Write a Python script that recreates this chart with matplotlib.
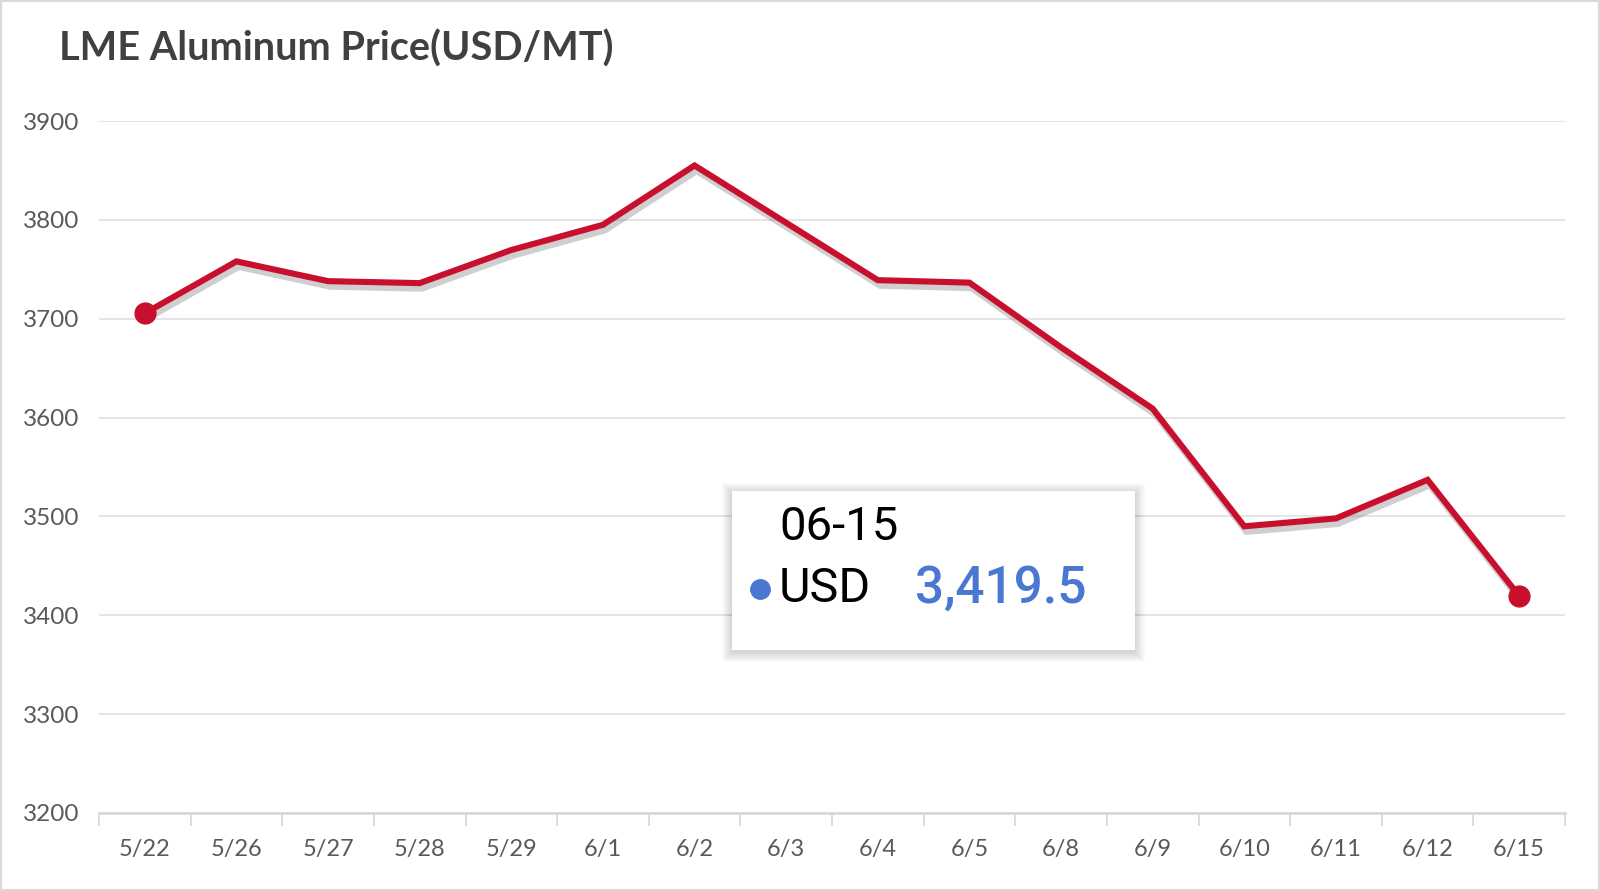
import matplotlib.pyplot as plt
import matplotlib.patheffects as pe
from matplotlib.patches import Rectangle

# values
dates = ['5/22', '5/26', '5/27', '5/28', '5/29', '6/1', '6/2', '6/3',
         '6/4', '6/5', '6/8', '6/9', '6/10', '6/11', '6/12', '6/15']
prices = [3705.5, 3758, 3738, 3736, 3769.5, 3795, 3855, 3797,
          3739, 3736.5, 3671, 3609, 3490, 3498, 3537, 3419.5]
y_ticks = [3200, 3300, 3400, 3500, 3600, 3700, 3800, 3900]
tip_date = '06-15'
tip_label = 'USD'
tip_value = '3,419.5'

W, H = 1600, 891
fig = plt.figure(figsize=(W / 100, H / 100), dpi=100)
ax = fig.add_axes([99 / W, 1 - 813 / H, (1565 - 99) / W, (813 - 121) / H])

red = '#C8102E'
grey_txt = '#595959'

x = list(range(len(dates)))
ax.plot(x, prices, color=red, lw=4.4, solid_joinstyle='miter', zorder=3, clip_on=False,
        path_effects=[pe.SimpleLineShadow(offset=(1.5, -4), shadow_color='#777777', alpha=0.35),
                      pe.Normal()])
# markers only on first and last point
ax.plot([x[0], x[-1]], [prices[0], prices[-1]], 'o', ms=15, color=red, zorder=4, clip_on=False)

ax.set_xlim(-0.5, len(dates) - 0.5)
ax.set_ylim(y_ticks[0], y_ticks[-1])
ax.set_yticks(y_ticks)
ax.set_yticklabels([str(v) for v in y_ticks], fontsize=17.5, color=grey_txt, family='Lato')
ax.set_xticks(x)
ax.set_xticklabels(dates, fontsize=17, color=grey_txt, family='Lato')
ax.set_xticks([i - 0.5 for i in range(len(dates) + 1)], minor=True)
ax.tick_params(axis='y', length=0, pad=14)
ax.tick_params(axis='x', which='major', length=0, pad=19)
ax.tick_params(axis='x', which='minor', length=9, width=1.3, color='#d9d9d9', direction='out')
ax.grid(axis='y', color='#e3e3e3', lw=1.3)
ax.set_axisbelow(True)
for s in ['top', 'right', 'left']:
    ax.spines[s].set_visible(False)
ax.spines['bottom'].set_color('#d9d9d9')
ax.spines['bottom'].set_linewidth(2)

fig.text(59 / W, 1 - 61 / H, 'LME Aluminum Price(USD/MT)', fontsize=28.5, fontweight='bold',
         color='#404040', family='Lato', va='baseline', ha='left')

# tooltip box with soft shadow
bx0, by0, bx1, by1 = 732, 491, 1135, 650
for k in range(10, 0, -1):
    fig.patches.append(Rectangle(((bx0 - k) / W, 1 - (by1 + k + 2) / H), (bx1 - bx0 + 2 * k) / W,
                                 (by1 - by0 + 2 * k) / H, transform=fig.transFigure,
                                 facecolor='#000000', edgecolor='none', alpha=0.014, zorder=5))
fig.patches.append(Rectangle((bx0 / W, 1 - by1 / H), (bx1 - bx0) / W, (by1 - by0) / H,
                             transform=fig.transFigure, facecolor='white', edgecolor='none', zorder=6))
fig.text(779 / W, 1 - 527 / H, tip_date, fontsize=34, color='black', family='Roboto',
         va='center', ha='left', zorder=7)
fig.text(779 / W, 1 - 589 / H, tip_label, fontsize=35, color='black', family='Roboto',
         va='center', ha='left', zorder=7)
fig.text(915 / W, 1 - 589 / H, tip_value, fontsize=37, color='#4A77D1', family='Roboto',
         fontweight='medium', va='center', ha='left', zorder=7)
fig.add_artist(plt.Line2D([760 / W], [1 - 589 / H], marker='o', ms=14, color='#4A77D1',
                          transform=fig.transFigure, zorder=7))

# outer frame
fig.patches.append(Rectangle((0, 0), 1, 1, transform=fig.transFigure, fill=False,
                             edgecolor='#d9d9d9', lw=3, zorder=10))

fig.savefig('out.png', dpi=100)
